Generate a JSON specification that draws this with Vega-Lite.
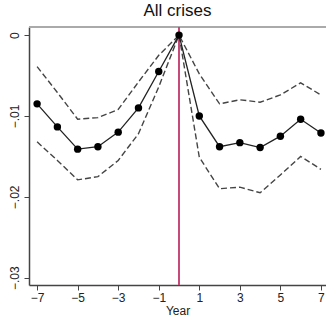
{
  "$schema": "https://vega.github.io/schema/vega-lite/v6.json",
  "autosize": "none",
  "width": 297,
  "height": 258,
  "padding": {"left": 29, "top": 27, "right": 0, "bottom": 35},
  "background": "white",
  "config": {
    "font": "Liberation Sans",
    "view": {"stroke": null},
    "axis": {"grid": false, "domainColor": "#444", "domainWidth": 1.5, "tickColor": "#444", "tickSize": 5, "labelColor": "#222", "labelFontSize": 12, "titleFontWeight": "normal", "titleColor": "#222", "titleFontSize": 12}
  },
  "title": {"text": "All crises", "fontSize": 17, "fontWeight": "normal", "color": "#111", "offset": 6},
  "data": {"values": [
    {"year": -7, "est": -0.0085, "lo": -0.0132, "hi": -0.0039},
    {"year": -6, "est": -0.01135, "lo": -0.0155, "hi": -0.0071},
    {"year": -5, "est": -0.0141, "lo": -0.0179, "hi": -0.0104},
    {"year": -4, "est": -0.0138, "lo": -0.0175, "hi": -0.0102},
    {"year": -3, "est": -0.0120, "lo": -0.0155, "hi": -0.0092},
    {"year": -2, "est": -0.0090, "lo": -0.0122, "hi": -0.0058},
    {"year": -1, "est": -0.0045, "lo": -0.0064, "hi": -0.0025},
    {"year": 0, "est": 0, "lo": 0, "hi": 0},
    {"year": 1, "est": -0.0100, "lo": -0.0151, "hi": -0.0048},
    {"year": 2, "est": -0.0138, "lo": -0.0190, "hi": -0.0085},
    {"year": 3, "est": -0.0133, "lo": -0.0188, "hi": -0.0080},
    {"year": 4, "est": -0.0139, "lo": -0.0195, "hi": -0.0083},
    {"year": 5, "est": -0.0125, "lo": -0.0173, "hi": -0.0074},
    {"year": 6, "est": -0.0104, "lo": -0.0150, "hi": -0.0059},
    {"year": 7, "est": -0.0121, "lo": -0.0166, "hi": -0.0074}
  ]},
  "layer": [
    {"mark": {"type": "rule", "color": "#aaa", "strokeWidth": 2},
     "encoding": {"y": {"datum": 0.001}}},
    {"mark": {"type": "rule", "color": "#c84a78", "strokeWidth": 1.4},
     "encoding": {"x": {"datum": 0}}},
    {"mark": {"type": "line", "color": "#444", "strokeWidth": 1.4, "strokeDash": [6, 3]},
     "encoding": {"x": {"field": "year", "type": "quantitative"}, "y": {"field": "hi", "type": "quantitative"}}},
    {"mark": {"type": "line", "color": "#444", "strokeWidth": 1.4, "strokeDash": [6, 3]},
     "encoding": {"x": {"field": "year", "type": "quantitative"}, "y": {"field": "lo", "type": "quantitative"}}},
    {"mark": {"type": "line", "color": "#222", "strokeWidth": 1.3},
     "encoding": {
       "x": {"field": "year", "type": "quantitative", "scale": {"domain": [-7.4, 7.25], "nice": false, "zero": false},
         "axis": {"values": [-7, -5, -3, -1, 1, 3, 5, 7], "title": "Year", "titlePadding": 2, "labelPadding": 2}},
       "y": {"field": "est", "type": "quantitative",
       "scale": {"domain": [-0.0309, 0.001], "nice": false, "zero": false},
       "axis": {"values": [0, -0.01, -0.02, -0.03], "title": null, "labelAngle": -90, "labelAlign": "center", "labelBaseline": "bottom", "labelPadding": 3,
         "labelExpr": "datum.value == 0 ? '0' : replace(format(datum.value, '.2f'), '0.', '.')"}}}},
    {"mark": {"type": "point", "filled": true, "color": "#000", "size": 55, "opacity": 1},
     "encoding": {"x": {"field": "year", "type": "quantitative"}, "y": {"field": "est", "type": "quantitative"}}}
  ]
}
